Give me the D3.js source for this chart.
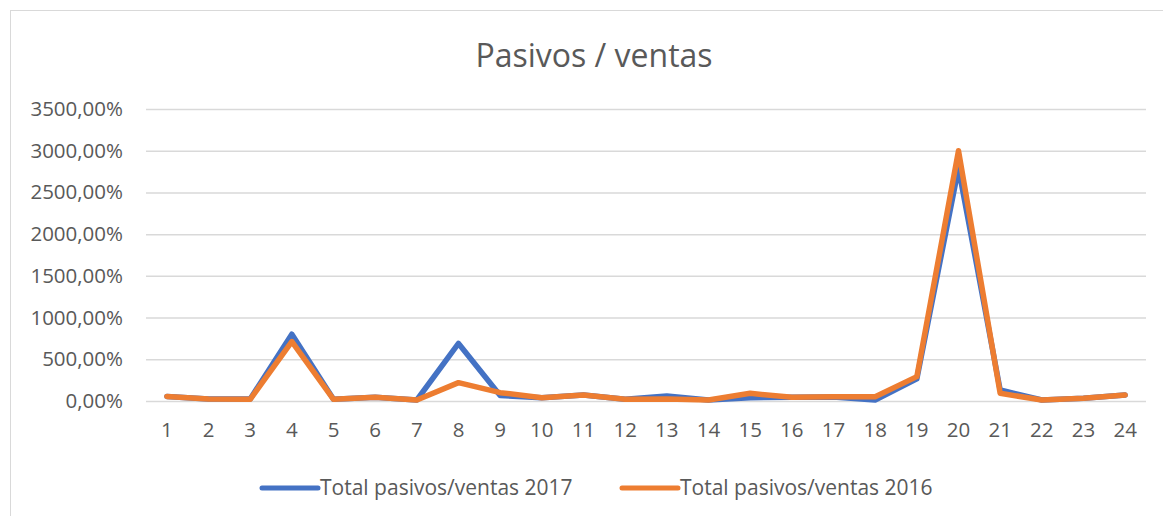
<!DOCTYPE html>
<html>
<head>
<meta charset="utf-8">
<script src="https://cdn.jsdelivr.net/npm/d3@7"></script>
<style>
  body { margin: 0; background: #fff; }
  text { font-family: "Open Sans", sans-serif; fill: #595959; }
</style>
</head>
<body>
<svg id="mainFrame"></svg>
<script>
// categories and series (percent values)
const categories = d3.range(1, 25).map(String);
const ventas2017 = [55, 24, 24, 800, 20, 44, 12, 690, 65, 40, 72, 20, 60, 12, 40, 44, 48, 12, 265, 2790, 132, 12, 32, 72];
const ventas2016 = [55, 24, 20, 712, 20, 44, 12, 220, 100, 40, 72, 20, 24, 12, 92, 44, 52, 52, 292, 3000, 92, 12, 32, 72];
const yTicks = [0, 500, 1000, 1500, 2000, 2500, 3000, 3500];
const seriesNames = ['Total pasivos/ventas 2017', 'Total pasivos/ventas 2016'];
const seriesColors = ['#4472C4', '#ED7D31'];

const width = 1163, height = 516;
const svg = d3.select('#mainFrame')
    .attr('width', width)
    .attr('height', height);

const margin = { top: 109, right: 15, bottom: 115, left: 146 };
const innerW = width - margin.left - margin.right - 2;
const innerH = height - margin.top - margin.bottom;

// chart border
svg.append('rect')
    .attr('x', 10.5).attr('y', 10.5)
    .attr('width', width).attr('height', height)
    .attr('fill', 'none')
    .attr('stroke', '#d9d9d9');

svg.append('text')
    .attr('x', 594).attr('y', 67)
    .attr('text-anchor', 'middle')
    .style('font-size', '32px')
    .text('Pasivos / ventas');

const g = svg.append('g')
    .attr('transform', `translate(${margin.left},${margin.top})`);

const x = d3.scaleBand().domain(categories).range([0, innerW]);
const y = d3.scaleLinear().domain([0, 3500]).range([innerH, 0]);

const fmt = v => d3.format('.2f')(v).replace('.', ',') + '%';

const yAxis = g.append('g')
    .call(d3.axisLeft(y).tickValues(yTicks).tickSize(-innerW).tickPadding(23).tickFormat(fmt));
yAxis.select('.domain').remove();
yAxis.selectAll('line').attr('stroke', '#d9d9d9').attr('stroke-width', 1.5);
yAxis.selectAll('text').style('font-size', '20.5px').attr('fill', '#595959');

const xAxis = g.append('g')
    .attr('transform', `translate(0,${innerH})`)
    .call(d3.axisBottom(x).tickSize(0).tickPadding(21));
xAxis.select('.domain').remove();
xAxis.selectAll('text').style('font-size', '20.5px').attr('fill', '#595959');

const line = d3.line()
    .x((d, i) => x(categories[i]) + x.bandwidth() / 2)
    .y(d => y(d));

[ventas2017, ventas2016].forEach((s, k) => {
    g.append('path')
        .datum(s)
        .attr('d', line)
        .attr('fill', 'none')
        .attr('stroke', seriesColors[k])
        .attr('stroke-width', 5.5)
        .attr('stroke-linejoin', 'round')
        .attr('stroke-linecap', 'round');
});

// legend
const legend = svg.append('g').attr('transform', 'translate(262,488)');
const entry = legend.selectAll('g')
    .data(seriesNames)
    .join('g')
    .attr('transform', (d, i) => `translate(${i * 360},0)`);
entry.append('line')
    .attr('x1', 0).attr('x2', 56)
    .attr('stroke', (d, i) => seriesColors[i])
    .attr('stroke-width', 5)
    .attr('stroke-linecap', 'round');
entry.append('text')
    .attr('x', 58).attr('dy', '0.35em')
    .style('font-size', '21px')
    .text(d => d);
</script>
</body>
</html>
